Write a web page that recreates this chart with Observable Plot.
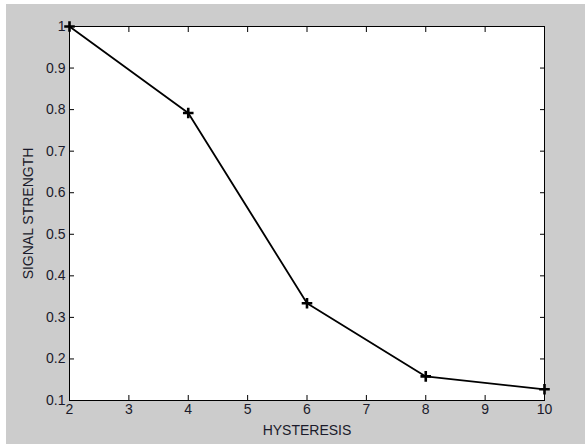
<!DOCTYPE html>
<html>
<head>
<meta charset="utf-8">
<script src="https://cdn.jsdelivr.net/npm/d3@7"></script>
<script src="https://cdn.jsdelivr.net/npm/@observablehq/plot@0.6"></script>
<style>
  html, body { margin: 0; padding: 0; background: #ffffff; }
  #chart { position: absolute; left: 6px; top: 4px; width: 579px; height: 440px; background: #cccccc; }
  #chart svg { background: transparent; display: block; }
</style>
</head>
<body>
<div id="chart"></div>
<script>
const hysteresis = [2, 4, 6, 8, 10];
const signalStrength = [1.0, 0.792, 0.334, 0.158, 0.127];
const xTicks = [2, 3, 4, 5, 6, 7, 8, 9, 10];
const yTicks = [0.1, 0.2, 0.3, 0.4, 0.5, 0.6, 0.7, 0.8, 0.9, 1.0];
const xLabel = "HYSTERESIS";
const yLabel = "SIGNAL STRENGTH";

const data = hysteresis.map((x, i) => ({x, y: signalStrength[i]}));
const fmt = d => String(+d.toFixed(1));

const W = 579, H = 440;
const mL = 63, mT = 22, mR = 41, mB = 44;
const FS = 14;

const plot = Plot.plot({
  width: W,
  height: H,
  marginLeft: mL,
  marginTop: mT,
  marginRight: mR,
  marginBottom: mB,
  style: {fontFamily: "Liberation Sans, Arial, sans-serif", fontSize: FS + "px", color: "#1a1a2a", background: "transparent"},
  x: {domain: [2, 10], ticks: xTicks},
  y: {domain: [0.1, 1], ticks: yTicks},
  marks: [
    Plot.rect([0], {x1: 2, x2: 10, y1: 0.1, y2: 1, fill: "white"}),
    Plot.axisX(xTicks, {anchor: "bottom", tickSize: -5, tickFormat: () => "", label: null, stroke: "#000"}),
    Plot.axisX(xTicks, {anchor: "top", tickSize: -5, tickFormat: () => "", label: null, stroke: "#000"}),
    Plot.axisY(yTicks, {anchor: "left", tickSize: -5, tickFormat: () => "", label: null, stroke: "#000"}),
    Plot.axisY(yTicks, {anchor: "right", tickSize: -5, tickFormat: () => "", label: null, stroke: "#000"}),
    Plot.axisX(xTicks, {anchor: "bottom", tickSize: 0, tickPadding: 4, tickFormat: fmt, label: xLabel, labelAnchor: "center", labelArrow: "none", labelOffset: 34, fill: "#1a1a2a", fontSize: FS}),
    Plot.axisY(yTicks, {anchor: "left", tickSize: 0, tickPadding: 4, tickFormat: fmt, label: yLabel, labelAnchor: "center", labelArrow: "none", labelOffset: 46, fill: "#1a1a2a", fontSize: FS}),
    Plot.frame({stroke: "#000", strokeWidth: 1}),
    Plot.line(data, {x: "x", y: "y", stroke: "#000", strokeWidth: 1.8}),
    Plot.dot(data, {x: "x", y: "y", symbol: "plus", r: 3.5, stroke: "#000", strokeWidth: 2.6})
  ]
});
document.getElementById("chart").appendChild(plot);
</script>
</body>
</html>
